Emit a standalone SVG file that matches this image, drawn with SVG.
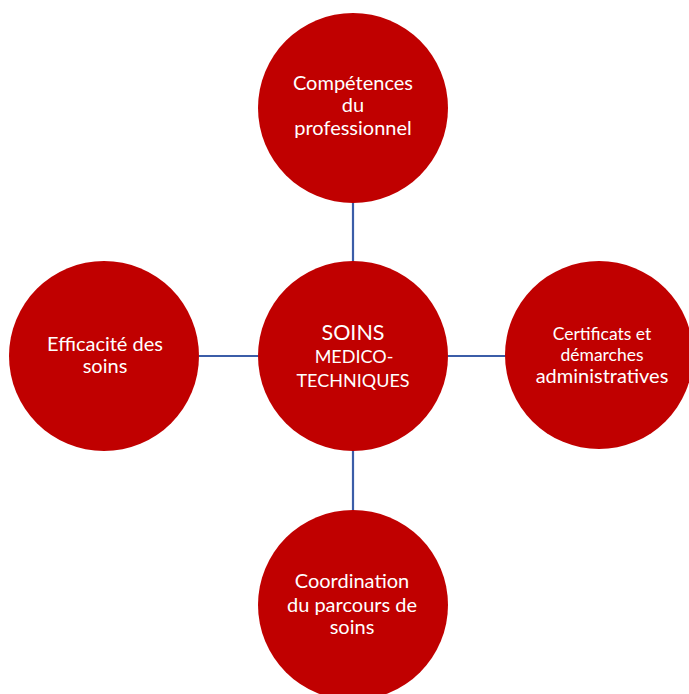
<svg xmlns="http://www.w3.org/2000/svg" width="689" height="694" viewBox="0 0 689 694">
<style>
.node{fill:#C00000;}
.lbl{fill:#FFFFFF;font-family:Lato,"Open Sans","Liberation Sans",sans-serif;text-anchor:middle;font-size:20px;}
.sm{font-size:17.5px;}
.caps{font-size:18px;}
.big{font-size:21.5px;}
.conn{stroke:#3B5DA8;stroke-width:2.2;fill:none;}
</style>
<rect width="689" height="694" fill="#FFFFFF"/>
<g id="connectors">
<line class="conn" x1="353" y1="202" x2="353" y2="262"/>
<line class="conn" x1="353" y1="450" x2="353" y2="510"/>
<line class="conn" x1="199" y1="356" x2="258" y2="356"/>
<line class="conn" x1="448" y1="356" x2="506" y2="356"/>
</g>
<g id="node-top">
<circle class="node" cx="353" cy="108" r="95"/>
<text class="lbl" x="353" y="90">Compétences</text>
<text class="lbl" x="353" y="112">du</text>
<text class="lbl" x="353" y="135">professionnel</text>
</g>
<g id="node-center">
<circle class="node" cx="353" cy="356" r="95"/>
<text class="lbl big" x="353" y="340">SOINS</text>
<text class="lbl caps" x="354" y="363">MEDICO-</text>
<text class="lbl caps" x="353" y="387">TECHNIQUES</text>
</g>
<g id="node-left">
<circle class="node" cx="104" cy="356" r="95"/>
<text class="lbl" x="105" y="351">Efficacité des</text>
<text class="lbl" x="105" y="373">soins</text>
</g>
<g id="node-right">
<circle class="node" cx="599" cy="355" r="94"/>
<text class="lbl sm" x="602" y="340">Certificats et</text>
<text class="lbl sm" x="602" y="361">démarches</text>
<text class="lbl" x="602" y="383">administratives</text>
</g>
<g id="node-bottom">
<circle class="node" cx="353" cy="605" r="95"/>
<text class="lbl" x="352" y="588">Coordination</text>
<text class="lbl" x="352" y="612">du parcours de</text>
<text class="lbl" x="352" y="634">soins</text>
</g>
</svg>
